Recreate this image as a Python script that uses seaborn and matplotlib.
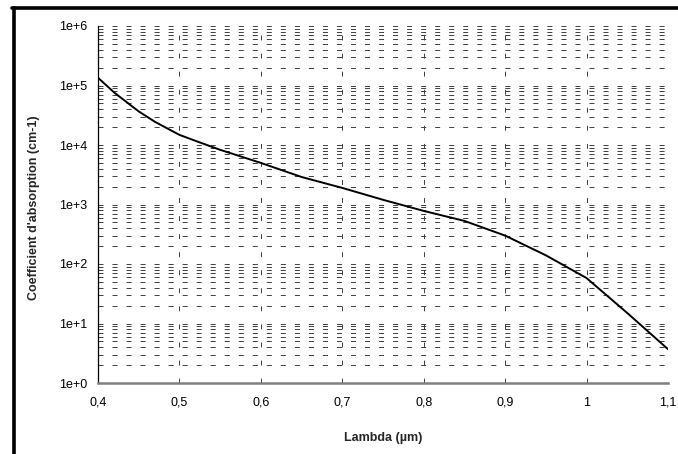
import numpy as np
import pandas as pd
import matplotlib
matplotlib.use("Agg")
import matplotlib.pyplot as plt
import seaborn as sns
from matplotlib.ticker import FixedLocator, LogLocator, NullFormatter, FixedFormatter
from matplotlib.lines import Line2D

# Data
lam = [0.40, 0.42, 0.45, 0.47, 0.50, 0.52, 0.55, 0.60, 0.65, 0.70, 0.75, 0.80, 0.85, 0.90, 0.95, 1.00, 1.05, 1.10]
alpha = [1.35e5, 7.6e4, 3.67e4, 2.45e4, 1.48e4, 1.17e4, 8.3e3, 5.0e3, 2.9e3, 1.9e3, 1.2e3, 7.8e2, 5.3e2, 3.0e2, 1.4e2, 5.8e1, 1.5e1, 3.7]

x_ticks = [0.4, 0.5, 0.6, 0.7, 0.8, 0.9, 1.0, 1.1]
x_labels = ["0,4", "0,5", "0,6", "0,7", "0,8", "0,9", "1", "1,1"]
y_ticks = [1e0, 1e1, 1e2, 1e3, 1e4, 1e5, 1e6]
y_labels = ["1e+0", "1e+1", "1e+2", "1e+3", "1e+4", "1e+5", "1e+6"]

sns.set_style("white")
plt.rcParams['font.family'] = ['Liberation Sans', 'DejaVu Sans']
plt.rcParams['lines.scale_dashes'] = False

fig = plt.figure(figsize=(6.78, 4.54), dpi=100)
ax = fig.add_axes([98/678, 1 - 383/454, (668-98)/678, (383-26)/454])

df = pd.DataFrame({"lam": lam, "alpha": alpha})
sns.lineplot(data=df, x="lam", y="alpha", ax=ax, color="black", linewidth=1.4)

ax.set_yscale("log")
ax.set_xlim(0.4, 1.1)
ax.set_ylim(1, 1e6)

ax.xaxis.set_major_locator(FixedLocator(x_ticks))
ax.xaxis.set_major_formatter(FixedFormatter(x_labels))
ax.yaxis.set_major_locator(FixedLocator(y_ticks))
ax.yaxis.set_major_formatter(FixedFormatter(y_labels))
ax.yaxis.set_minor_locator(LogLocator(base=10, subs=np.arange(2, 10), numticks=20))
ax.yaxis.set_minor_formatter(NullFormatter())

ax.tick_params(axis="both", which="major", labelsize=9, colors="black", length=5, width=0.8, direction="out")
ax.tick_params(axis="y", which="minor", length=0)
ax.tick_params(axis="x", which="major", pad=6, length=4)
ax.tick_params(axis="y", which="major", pad=3)

ax.grid(False)
ax.grid(True, which="both", axis="y", color="#444444", linewidth=0.72, linestyle=(0, (3.6, 6.5)))
ax.grid(True, which="major", axis="x", color="#444444", linewidth=0.72, linestyle=(0, (3.5, 9.5)))

for s in ["top", "right"]:
    ax.spines[s].set_visible(False)
ax.spines["left"].set_color("black")
ax.spines["left"].set_linewidth(0.9)
ax.spines["bottom"].set_color("#808080")
ax.spines["bottom"].set_linewidth(1.8)

ax.set_xlabel("Lambda (µm)", fontsize=9, fontweight="bold")
ax.set_ylabel("Coefficient d'absorption (cm-1)", fontsize=9, fontweight="bold")
ax.xaxis.set_label_coords(0.5, (383-432)/357)
ax.yaxis.set_label_coords((40-98)/570, 0.49)

# outer frame (partially cropped in reference)
fig.add_artist(Line2D([13.5/678, 13.5/678], [0, 1 - 8/454], transform=fig.transFigure, color="black", linewidth=2.6))
fig.add_artist(Line2D([12/678, 1], [1 - 8/454, 1 - 8/454], transform=fig.transFigure, color="black", linewidth=2.6))

fig.savefig("out.png", dpi=100)
